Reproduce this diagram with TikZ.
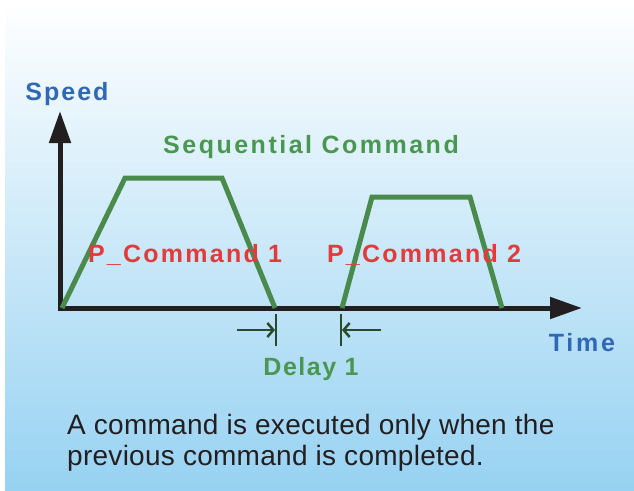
\documentclass[tikz,border=0pt]{standalone}
\usepackage{fontspec}
\setmainfont{Liberation Sans}
\usetikzlibrary{arrows.meta}
\definecolor{axisblack}{HTML}{231F20}
\definecolor{curvegreen}{HTML}{4A8A4C}
\definecolor{textgreen}{HTML}{4A9752}
\definecolor{delaygreen}{HTML}{2A4A2C}
\definecolor{labelred}{HTML}{E23B3B}
\definecolor{labelblue}{HTML}{2F68B5}
\definecolor{bgtop}{HTML}{FFFFFF}
\definecolor{bgbot}{HTML}{97D2F2}
\newcommand{\lbfont}[1]{\bfseries\addfontfeature{LetterSpace=#1}\fontsize{25}{30}\selectfont}
\begin{document}
\begin{tikzpicture}[x=1pt,y=-1pt,
  axis/.style={line width=5pt,color=axisblack,-{Triangle[length=32pt,width=21pt]}},
  curve/.style={line width=5pt,color=curvegreen,line join=miter},
  tick/.style={line width=2.5pt,color=delaygreen},
  delayarrow/.style={line width=2.5pt,color=delaygreen,-{Straight Barb[length=6pt,width=14pt]}},
  lbl/.style={inner sep=0pt,anchor=base},
  note/.style={font=\addfontfeature{LetterSpace=1}\fontsize{28}{31}\selectfont,text=axisblack,inner sep=0pt,anchor=base west}
]
\useasboundingbox (0,0) rectangle (634,490);
\fill[white] (0,0) rectangle (634,490);
\shade[top color=bgtop,bottom color=bgbot] (5,0) rectangle (634,490);

% axes
\coordinate (O) at (60,308);
\coordinate (ytip) at (60,111);
\coordinate (xtip) at (582,308);
\draw[axis] ([yshift=2.5pt]O) -- (ytip);
\draw[axis] ([xshift=-2.5pt]O) -- (xtip);

% trapezoids
\coordinate (a0) at (62,308);
\coordinate (a1) at (125,178);
\coordinate (a2) at (222,178);
\coordinate (a3) at (275,308);
\coordinate (b0) at (342,308);
\coordinate (b1) at (372,197);
\coordinate (b2) at (470,197);
\coordinate (b3) at (502,308);
\draw[curve] (a0) -- (a1) -- (a2) -- (a3);
\draw[curve] (b0) -- (b1) -- (b2) -- (b3);

% delay markers
\coordinate (t1a) at (276,314);
\coordinate (t1b) at (276,346);
\coordinate (t2a) at (341,314);
\coordinate (t2b) at (341,346);
\coordinate (d1) at (237,330);
\coordinate (d1e) at (275,330);
\coordinate (d2) at (381,330);
\coordinate (d2e) at (342,330);
\draw[tick] (t1a) -- (t1b);
\draw[tick] (t2a) -- (t2b);
\draw[delayarrow] (d1) -- (d1e);
\draw[delayarrow] (d2) -- (d2e);

% labels
\node[lbl,font=\lbfont{8},text=labelblue] (speed) at (67,100) {Speed};
\node[lbl,font=\lbfont{11},text=labelblue] (time) at (582,351) {Time};
\node[lbl,font=\lbfont{10},text=textgreen] (seq) at (311,153) {Sequential Command};
\node[lbl,font=\lbfont{9},text=labelred] (p1) at (185,262) {P\_Command 1};
\node[lbl,font=\lbfont{9},text=labelred] (p2) at (424,262) {P\_Command 2};
\node[lbl,font=\lbfont{6},text=textgreen] (delay) at (311,375) {Delay 1};
\node[note] (txt1) at (67,434) {A command is executed only when the};
\node[note] (txt2) at (67,465) {previous command is completed.};
\end{tikzpicture}
\end{document}
